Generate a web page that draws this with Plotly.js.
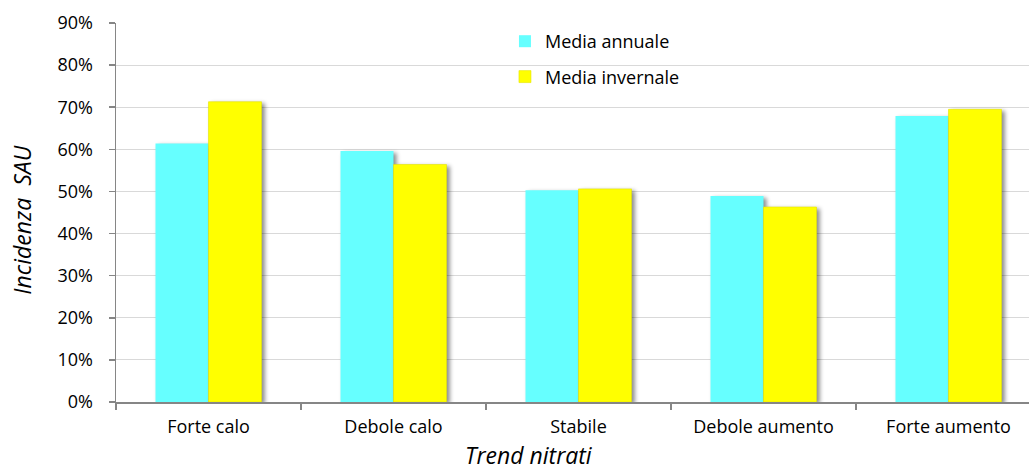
<!DOCTYPE html>
<html>
<head>
<meta charset="utf-8">
<script src="https://cdn.plot.ly/plotly-3.0.1.min.js"></script>
<style>
  html, body { margin: 0; padding: 0; background: #ffffff; overflow: hidden; }
  #chart { width: 1050px; height: 470px; }
  /* soft drop shadow under each bar */
  .barlayer .point path { filter: drop-shadow(3px 2px 2px rgba(0,0,0,0.45)); }
</style>
</head>
<body>
<div id="chart"></div>
<script>
// Categories and series values (shares of SAU)
const categories = ['Forte calo', 'Debole calo', 'Stabile', 'Debole aumento', 'Forte aumento'];
const mediaAnnuale = [0.614, 0.596, 0.503, 0.489, 0.679];
const mediaInvernale = [0.713, 0.564, 0.506, 0.463, 0.695];
const seriesNames = ['Media annuale', 'Media invernale'];
const yTickVals = [0, 0.1, 0.2, 0.3, 0.4, 0.5, 0.6, 0.7, 0.8, 0.9];
const yTickText = ['0%', '10%', '20%', '30%', '40%', '50%', '60%', '70%', '80%', '90%'];
const xTitle = 'Trend nitrati';
const yTitle = 'Incidenza&nbsp;&nbsp;SAU';

const font = 'Open Sans, sans-serif';

const traces = [
  {
    type: 'bar', name: seriesNames[0], x: categories, y: mediaAnnuale,
    marker: { color: '#66FFFF', line: { width: 0 } },
    legendgroup: 'a', hoverinfo: 'skip'
  },
  {
    type: 'bar', name: seriesNames[1], x: categories, y: mediaInvernale,
    marker: { color: '#FFFF00', line: { color: '#E6E600', width: 0.6 } },
    legendgroup: 'b', hoverinfo: 'skip'
  }
];

const layout = {
  width: 1050, height: 470,
  margin: { l: 116, r: 9, t: 23, b: 68 },
  paper_bgcolor: '#ffffff', plot_bgcolor: '#ffffff',
  font: { family: font, size: 18, color: '#000000' },
  barmode: 'group', bargap: 0.427, bargroupgap: 0,
  showlegend: true,
  legend: {
    x: 0.4205, y: 1.0, xanchor: 'left', yanchor: 'top',
    bgcolor: 'rgba(255,255,255,0)', borderwidth: 0,
    font: { family: font, size: 18, color: '#000000' },
    traceorder: 'grouped', tracegroupgap: 9, itemwidth: 30
  },
  xaxis: {
    type: 'category', tickson: 'boundaries', ticks: 'outside', ticklen: 6,
    tickcolor: '#868686', tickwidth: 1.5,
    showline: true, linecolor: '#868686', linewidth: 1.5,
    showgrid: false, zeroline: false, ticklabelstandoff: 8,
    tickfont: { family: font, size: 18, color: '#000000' }
  },
  yaxis: {
    range: [0, 0.9], tickvals: yTickVals, ticktext: yTickText,
    ticks: 'outside', ticklen: 6, tickcolor: '#868686', tickwidth: 1.5,
    showline: true, linecolor: '#868686', linewidth: 1.5,
    showgrid: true, gridcolor: '#D9D9D9', gridwidth: 1,
    zeroline: false, ticklabelstandoff: 12,
    tickfont: { family: font, size: 18, color: '#000000' }
  },
  shapes: [
    // white panel behind the legend, hiding the gridlines there
    { type: 'rect', xref: 'paper', yref: 'paper', layer: 'between',
      x0: 0.401, x1: 0.657, y0: 0.82, y1: 1.01,
      fillcolor: '#ffffff', line: { width: 0 } }
  ],
  annotations: [
    { text: '<i>' + xTitle + '</i>', xref: 'paper', yref: 'paper',
      x: 0.446, y: -0.14, xanchor: 'center', yanchor: 'middle', showarrow: false,
      font: { family: font, size: 23, color: '#000000' } },
    { text: '<i>' + yTitle + '</i>', xref: 'paper', yref: 'paper', textangle: -90,
      x: -0.101, y: 0.48, xanchor: 'center', yanchor: 'middle', showarrow: false,
      font: { family: font, size: 23, color: '#000000' } }
  ]
};

Plotly.newPlot('chart', traces, layout, { staticPlot: true, displayModeBar: false });
</script>
</body>
</html>
